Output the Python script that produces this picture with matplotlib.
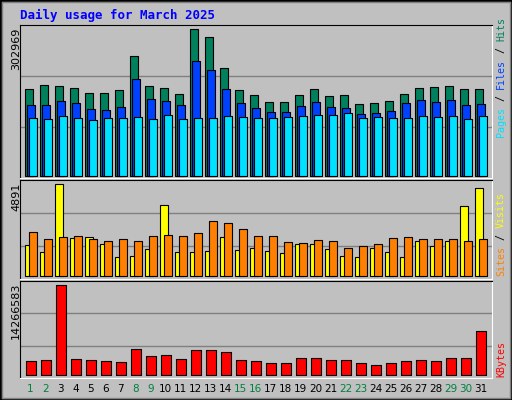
import matplotlib
matplotlib.use("Agg")
import matplotlib.pyplot as plt
from matplotlib.patches import Rectangle

days = list(range(1, 32))
weekend = [1, 2, 8, 9, 15, 16, 22, 23, 29, 30]
K = 302969 / 442
hits = [h * K for h in [262,274,271,265,250,250,259,361,271,265,247,442,418,325,259,244,223,223,244,262,241,244,217,220,226,247,265,268,271,262,262]]
files = [h * K for h in [214,214,226,220,202,199,208,292,232,226,214,346,319,262,220,205,193,193,211,223,208,205,187,190,196,220,229,223,229,214,217]]
pages = [h * K for h in [175,172,181,175,169,175,175,178,172,184,172,175,175,181,178,175,175,178,181,184,184,190,175,178,175,175,181,178,181,172,181]]
V = 4891 / 276
visits = [h * V for h in [93,72,276,114,117,96,57,60,81,213,72,72,75,117,78,84,75,69,96,96,81,60,57,84,72,57,105,90,105,210,264]]
sites = [h * V for h in [132,111,117,120,111,105,111,105,120,123,120,129,165,159,141,120,120,102,99,108,105,84,90,96,114,117,111,111,111,105,111]]
B = 14266583 / 273
kbytes = [h * B for h in [42,45,273,48,45,42,39,78,57,60,48,75,75,69,45,42,36,36,51,51,45,45,36,30,36,42,45,42,51,51,132]]

BG = "#C0C0C0"
fig = plt.figure(figsize=(5.12, 4.0), dpi=100, facecolor=BG)
fig.patches.append(Rectangle((0, 0), 1, 1, transform=fig.transFigure, fill=False, ec="black", lw=2))
fig.patches.append(Rectangle((2/512, 2/400), 508/512, 396/400, transform=fig.transFigure, fill=False, ec="#808080", lw=1))

def mkax(top, bot):
    ax = fig.add_axes([20/512, 1 - bot/400, 472/512, (bot - top)/400])
    ax.set_facecolor(BG)
    ax.set_xlim(1 - 5/15, 1 + 467/15)
    for s in ["top", "left"]:
        ax.spines[s].set_color("black")
    for s in ["bottom", "right"]:
        ax.spines[s].set_color("white")
    ax.set_xticks([]); ax.set_yticks([])
    return ax

def grid(ax):
    y0, y1 = ax.get_ylim()
    for f in (1/3, 2/3):
        ax.axhline(y0 + f*(y1 - y0), color="#808080", lw=1, zorder=0)

ekw = dict(align="edge", edgecolor="black", linewidth=0.8)
mono = "DejaVu Sans Mono"

ax1 = mkax(25, 178)
ax1.set_ylim(-7*K, 455*K)
grid(ax1)
ax1.bar([d for d in days], hits, width=8/15, color="#00805C", **ekw)
ax1.bar([d + 2.3/15 for d in days], files, width=7.5/15, color="#0040FF", **ekw)
ax1.bar([d + 4.3/15 for d in days], pages, width=7.5/15, color="#00E0FF", **ekw)

ax2 = mkax(180, 279)
ax2.set_ylim(-8*V, 288*V)
grid(ax2)
ax2.bar([d for d in days], visits, width=8/15, color="#FFFF00", **ekw)
ax2.bar([d + 4/15 for d in days], sites, width=7.5/15, color="#FF8000", **ekw)

ax3 = mkax(281, 378)
ax3.set_ylim(-9*B, 285*B)
grid(ax3)
ax3.bar([d + 1.3/15 for d in days], kbytes, width=10/15, color="#FF0000", **ekw)

fig.text(20/512, 1 - 15/400, "Daily usage for March 2025", color="#0000FF", family=mono,
         weight="bold", fontsize=9, va="center", ha="left")

def ylab(y, s):
    fig.text(16/512, 1 - y/400, s, rotation=90, ha="center", va="top", fontsize=8, color="black")
ylab(28, "302969")
ylab(183, "4891")
ylab(283, "14266583")

FS = 7.2
CW = 0.602 * FS * 100 / 72
def rlab(ybot, parts):
    y = ybot
    for s, c in parts:
        fig.text(501/512, 1 - y/400, s, rotation=90, ha="center", va="bottom",
                 fontsize=FS, color=c, family=mono)
        y -= len(s) * CW
rlab(137, [("Pages", "#00E0FF"), (" / ", "#000000"), ("Files", "#0040FF"), (" / ", "#000000"), ("Hits", "#00805C")])
rlab(276, [("Sites", "#FF8000"), (" / ", "#000000"), ("Visits", "#FFFF00")])
rlab(377, [("KBytes", "#FF0000")])

for d in days:
    x = (20 + 5 + 15*(d - 1) + 5.5) / 512
    fig.text(x, 1 - 389/400, str(d), ha="center", va="center", fontsize=7.5,
             color="#008040" if d in weekend else "black")

fig.savefig("out.png", dpi=100, facecolor=BG)
